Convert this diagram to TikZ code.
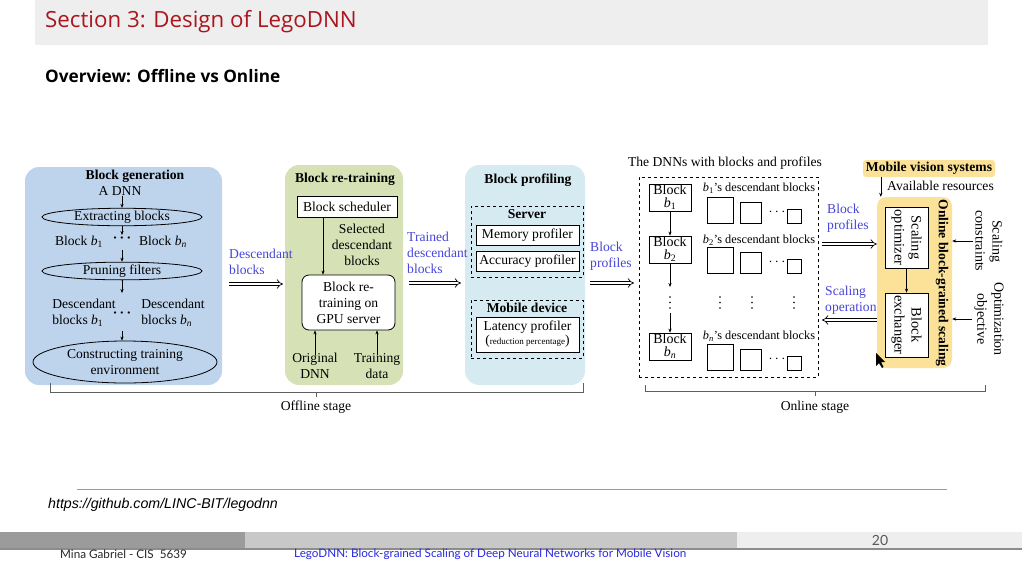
\documentclass[tikz,border=0pt]{standalone}
\usepackage{fontspec}
\setmainfont{Liberation Serif}
\newfontfamily\opensans{Open Sans}
\newfontfamily\latofont{Lato}
\newfontfamily\arialfont{Liberation Sans}
\usetikzlibrary{arrows.meta,shapes.geometric,calc}
\definecolor{headgray}{RGB}{238,238,238}
\definecolor{titlered}{RGB}{170,22,30}
\definecolor{pblue}{RGB}{190,212,236}
\definecolor{pgreen}{RGB}{214,225,182}
\definecolor{pcyan}{RGB}{214,235,241}
\definecolor{pyellow}{RGB}{251,226,152}
\definecolor{lblblue}{RGB}{70,70,215}
\definecolor{brkgray}{RGB}{95,95,95}
\definecolor{fgA}{RGB}{155,155,155}
\definecolor{fgB}{RGB}{200,200,200}
\definecolor{fgC}{RGB}{238,238,238}
\definecolor{footblue}{RGB}{40,40,220}
\newcommand{\bsub}[1]{\textit{b}\textsubscript{#1}}
\newcommand{\bdots}{\textbf{·\,·\,·}}
\begin{document}
\begin{tikzpicture}[x=1pt,y=-1pt,
  dt/.style={font=\fontsize{13.6}{16}\selectfont, inner sep=0pt, align=center},
  bt/.style={font=\bfseries\fontsize{13.6}{16}\selectfont, inner sep=0pt, align=center},
  lbl/.style={font=\fontsize{13.6}{16}\selectfont, inner sep=0pt, align=left, text=lblblue, anchor=west},
  arr/.style={-{Stealth[length=4pt,width=3.2pt]}, line width=0.6pt},
  dbl/.style={double, double distance=2.6pt, line width=0.7pt, -{Implies}},
  box/.style={draw, line width=0.8pt, fill=white, inner sep=0pt},
  panel/.style={rounded corners=14pt, inner sep=0pt},
  ell/.style={ellipse, draw, line width=0.8pt, inner sep=0pt, font=\fontsize{13.6}{16}\selectfont, align=center},
  dbox/.style={draw, dashed, line width=0.8pt, inner sep=0pt},
  sq/.style={draw, line width=1pt, inner sep=0pt},
  vdot/.style={circle, fill, inner sep=0pt, minimum size=1.7pt},
  brk/.style={draw=brkgray, line width=0.8pt}]
\useasboundingbox (0,0) rectangle (1024,576);

% header
\fill[headgray] (35,0) rectangle (988,45);
\node[anchor=west, inner sep=0, text=titlered, font=\opensans\fontsize{22.3}{26}\selectfont] (title) at (45,22) {Section 3: Design of LegoDNN};
\node[anchor=west, inner sep=0, font=\opensans\bfseries\fontsize{17.2}{20}\selectfont] (overview) at (45,76) {Overview: Offline vs Online};

% ---------- panels ----------
\node[panel, fill=pblue, minimum width=197pt, minimum height=218pt] (genpanel) at (123.5,276) {};
\node[panel, fill=pgreen, minimum width=118pt, minimum height=220pt] (trpanel) at (344,275) {};
\node[panel, fill=pcyan, minimum width=120pt, minimum height=220pt] (prpanel) at (525,275) {};

% ---------- Block generation ----------
\node[bt] (gtitle) at (135,176) {Block generation};
\node[dt] (adnn) at (120,191) {A DNN};
\node[ell, minimum width=160pt, minimum height=15pt] (extract) at (122,217) {Extracting blocks};
\node[dt] (b1) at (79,242) {Block \bsub{1}};
\node[dt] (gdots1) at (122,240) {\bdots};
\node[dt] (bn) at (163,242) {Block \bsub{\textit{n}}};
\node[ell, minimum width=160pt, minimum height=15pt] (prune) at (122,271) {Pruning filters};
\node[dt, align=left] (d1) at (84,313) {Descendant\\blocks \bsub{1}};
\node[dt] (gdots2) at (122,315) {\bdots};
\node[dt, align=left] (dn) at (173,313) {Descendant\\blocks \bsub{\textit{n}}};
\node[ell, minimum width=184pt, minimum height=42pt] (construct) at (125,362) {Constructing training\\environment};
\coordinate (g1) at (122,235);
\coordinate (g2) at (122,250);
\coordinate (g3) at (122,293);
\coordinate (g4) at (122,331);
\draw[arr] (adnn.south -| extract.north) -- (extract.north);
\draw[arr] (extract.south) -- (g1);
\draw[arr] (g2) -- (prune.north);
\draw[arr] (prune.south) -- (g3);
\draw[arr] (g4) -- (g4 |- construct.north);

% ---------- arrow 1 ----------
\node[lbl] (lbl1) at (229,262) {Descendant\\blocks};
\coordinate (a1s) at (229,284);
\coordinate (a1e) at (283,284);
\draw[dbl] (a1s) -- (a1e);

% ---------- Block re-training ----------
\node[bt] (rtitle) at (345,179) {Block re-training};
\node[box, minimum width=100pt, minimum height=21pt, dt] (sched) at (347,207) {Block scheduler};
\node[box, rounded corners=7pt, minimum width=93pt, minimum height=55pt, dt] (retrain) at (348.5,302.5) {Block re-\\training on\\GPU server};
\node[dt] (sel) at (362,245) {Selected\\descendant\\blocks};
\node[dt] (orig) at (315,366) {Original\\DNN};
\node[dt] (tdata) at (377,366) {Training\\data};
\draw[arr] ([xshift=-24pt]sched.south) -- ([xshift=-24pt]sched.south |- retrain.north);
\draw[arr] ([yshift=-2pt]orig.north) -- (orig.north |- retrain.south);
\draw[arr] ([yshift=-2pt]tdata.north) -- (tdata.north |- retrain.south);

% ---------- arrow 2 ----------
\node[lbl] (lbl2) at (407,253) {Trained\\descendant\\blocks};
\coordinate (a2s) at (409,283);
\coordinate (a2e) at (461,283);
\draw[dbl] (a2s) -- (a2e);

% ---------- Block profiling ----------
\node[bt] (ptitle) at (528,180) {Block profiling};
\node[dbox, minimum width=112pt, minimum height=71pt] (server) at (527,241.5) {};
\node[bt] (servt) at (527,214) {Server};
\node[box, dt, minimum width=103pt, minimum height=20pt] (mem) at (527.5,235) {Memory profiler};
\node[box, dt, minimum width=103pt, minimum height=20pt] (acc) at (527.5,261) {Accuracy profiler};
\node[dbox, minimum width=112pt, minimum height=58pt] (mobile) at (527,329) {};
\node[bt] (mobt) at (527,308) {Mobile device};
\node[box, minimum width=103pt, minimum height=35pt, font=\fontsize{13.6}{16}\selectfont, align=center] (lat) at (527.5,334.5) {Latency profiler\\[-2pt]{\fontsize{13.6}{14}\selectfont(}{\fontsize{9}{10}\selectfont reduction percentage}{\fontsize{13.6}{14}\selectfont)}};

% ---------- arrow 3 ----------
\node[lbl] (lbl3) at (590,256) {Block\\profiles};
\coordinate (a3s) at (590,283);
\coordinate (a3e) at (634,283);
\draw[dbl] (a3s) -- (a3e);

% ---------- DNNs with blocks ----------
\node[dt] (dnntitle) at (725,163) {The DNNs with blocks and profiles};
\node[dbox, minimum width=179pt, minimum height=200pt] (dnnbox) at (728.5,277) {};
\node[box, dt, font=\fontsize{14}{13}\selectfont, minimum width=42pt, minimum height=27pt] (blk1) at (670,197.5) {Block\\\bsub{1}};
\node[box, dt, font=\fontsize{14}{13}\selectfont, minimum width=42pt, minimum height=27pt] (blk2) at (670,249.5) {Block\\\bsub{2}};
\node[box, dt, font=\fontsize{14}{13}\selectfont, minimum width=42pt, minimum height=27pt] (blkn) at (670,346.5) {Block\\\bsub{\textit{n}}};
\coordinate (v1) at (670,287);
\coordinate (v2) at (670,313);
\draw[arr] (blk1.south) -- (blk2.north);
\draw[arr] (blk2.south) -- (v1);
\draw[arr] (v2) -- (blkn.north);
\node[dt, font=\fontsize{12.3}{14}\selectfont] (r1l) at (759,188) {\bsub{1}'s descendant blocks};
\node[dt, font=\fontsize{12.3}{14}\selectfont] (r2l) at (759,240) {\bsub{2}'s descendant blocks};
\node[dt, font=\fontsize{12.3}{14}\selectfont] (rnl) at (759,336) {\bsub{\textit{n}}'s descendant blocks};
\foreach \r/\b in {1/223,2/273,n/370}{
  \node[sq, minimum size=26pt] (sqA\r) at (720,\b-13) {};
  \node[sq, minimum size=21pt] (sqB\r) at (750.5,\b-10.5) {};
  \node[dt] (sqd\r) at (777,\b-11) {$\cdots$};
  \node[sq, minimum size=14pt] (sqC\r) at (794,\b-7) {};
}
\foreach \x [count=\i] in {670,720,752,794}{
  \node[vdot] (vdA\i) at (\x,297) {};
  \node[vdot] (vdB\i) at (\x,302.5) {};
  \node[vdot] (vdC\i) at (\x,308) {};
}

% ---------- arrows 4/5 ----------
\node[lbl] (lbl4) at (827,218) {Block\\profiles};
\node[lbl] (lbl5) at (825,300) {Scaling\\operation};
\coordinate (a4s) at (822,244);
\coordinate (a5e) at (822,320);

% ---------- Mobile vision ----------
\node[fill=pyellow, rounded corners=3pt, minimum width=132pt, minimum height=17pt, inner sep=0pt, font=\bfseries\fontsize{13.6}{16}\selectfont] (mvs) at (929,168.5) {Mobile vision systems};
\node[dt, anchor=west] (avail) at (887,186) {Available resources};
\node[fill=pyellow, rounded corners=9pt, minimum width=75pt, minimum height=171pt, inner sep=0pt] (onl) at (914.5,282.5) {};
\node[bt, rotate=-90] (onltitle) at (942,283) {Online block-grained scaling};
\node[box, minimum width=43pt, minimum height=61pt] (opt) at (906.5,237.5) {};
\node[dt, rotate=-90, font=\fontsize{14.5}{17}\selectfont] (optt) at (opt) {Scaling\\optimizer};
\node[box, minimum width=43pt, minimum height=64pt] (exch) at (906.5,325) {};
\node[dt, rotate=-90, font=\fontsize{14.5}{17}\selectfont] (excht) at (exch) {Block\\exchanger};
\draw[arr] (opt.south) -- (exch.north);
\draw[arr] ([xshift=4pt]onl.north west |- mvs.south) -- ([xshift=4pt]onl.north west);
\node[dt, rotate=-90, font=\fontsize{14}{17}\selectfont] (sc) at (989,241) {Scaling\\constraints};
\node[dt, rotate=-90, font=\fontsize{14}{17}\selectfont] (oo) at (989,319) {Optimization\\objective};
\draw[arr] (sc.south) ++(-2,0) coordinate (scs) -- (onl.east |- scs);
\draw[arr] (oo.south) ++(-2,0) coordinate (oos) -- (onl.east |- oos);
\draw[dbl] (a4s) -- (onl.west |- a4s);
\draw[dbl] (onl.west |- a5e) -- (a5e);
% pointer
\fill (876,353) -- (876,366) -- (879,363) -- (882,368) -- (883.5,367) -- (881,362) -- (885,362) -- cycle;

% ---------- brackets ----------
\draw[brk] (50,383) -- (50,392) -- (583,392) -- (583,383);
\draw[brk] (316,392) -- (316,397);
\node[dt] (offl) at (316,407) {Offline stage};
\draw[brk] (645,385) -- (645,391) -- (985,391) -- (985,385);
\draw[brk] (815,391) -- (815,396);
\node[dt] (onls) at (815,407) {Online stage};

% ---------- footer ----------
\draw[draw=fgA, line width=1pt] (77,489) -- (947,489);
\node[anchor=west, inner sep=0, font=\arialfont\itshape\fontsize{14.2}{16}\selectfont] (url) at (48,505) {https://github.com/LINC-BIT/legodnn};
\fill[black!45] (0,533) rectangle (1022,549.5);
\fill[fgA] (0,532) rectangle (245,548);
\fill[fgB] (245,532) rectangle (737,548);
\fill[fgC] (737,532) rectangle (1022,548);
\node[anchor=west, inner sep=0, font=\latofont\fontsize{11.7}{13}\selectfont, text=black!85] (auth) at (60,554) {Mina Gabriel - CIS\ \ 5639};
\node[anchor=west, inner sep=0, font=\latofont\fontsize{11.7}{13}\selectfont, text=footblue] (ftitle) at (294,554) {LegoDNN: Block-grained Scaling of Deep Neural Networks for Mobile Vision};
\node[inner sep=0, font=\latofont\fontsize{14}{16}\selectfont, text=black!65] (pnum) at (880,540) {20};
\end{tikzpicture}
\end{document}
